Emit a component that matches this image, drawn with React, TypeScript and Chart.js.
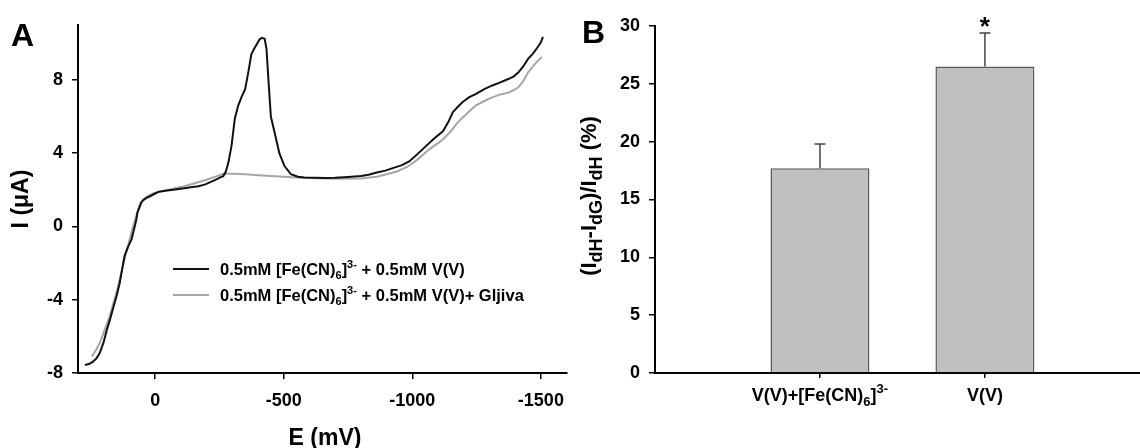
import React, { useEffect, useRef } from 'react';
import { Chart, registerables } from 'chart.js';

Chart.register(...registerables);

const FONT = '"Liberation Sans", Arial, Helvetica, sans-serif';

// ---------- Panel A data (E in mV, I in µA) ----------
const blackE = [273, 255, 242, 228, 215, 200, 188, 176, 165, 150, 138, 128, 119, 105, 92, 82, 73, 69, 62, 54, 45, 35, 20, 0, -15, -40, -70, -92, -120, -145, -169, -195, -219, -240, -253, -265, -275, -285, -297, -310, -323, -337, -350, -362, -374, -385, -393, -405, -415, -426, -433, -441, -450, -465, -483, -503, -528, -555, -580, -620, -660, -700, -750, -800, -830, -862, -895, -927, -960, -988, -1020, -1054, -1085, -1119, -1140, -1158, -1178, -1196, -1220, -1246, -1280, -1311, -1340, -1373, -1395, -1412, -1432, -1450, -1470, -1488, -1500, -1508];
const blackI = [-7.56, -7.5, -7.38, -7.2, -6.9, -6.3, -5.65, -5.1, -4.55, -3.8, -3.1, -2.3, -1.6, -1.1, -0.7, -0.15, 0.38, 0.75, 1.0, 1.3, 1.45, 1.55, 1.65, 1.8, 1.9, 1.95, 2.0, 2.05, 2.1, 2.15, 2.2, 2.3, 2.45, 2.58, 2.68, 2.75, 3.0, 3.5, 4.4, 5.9, 6.6, 7.1, 7.5, 8.4, 9.4, 9.7, 9.9, 10.2, 10.3, 10.25, 9.7, 7.9, 6.0, 5.1, 4.0, 3.3, 2.85, 2.72, 2.68, 2.66, 2.65, 2.66, 2.7, 2.75, 2.82, 2.95, 3.05, 3.2, 3.35, 3.55, 3.95, 4.4, 4.8, 5.2, 5.7, 6.25, 6.55, 6.8, 7.05, 7.23, 7.5, 7.7, 7.85, 8.05, 8.2, 8.4, 8.75, 9.15, 9.45, 9.8, 10.05, 10.35];

const greyE = [246, 230, 215, 200, 190, 177, 165, 150, 138, 125, 112, 100, 88, 75, 65, 55, 40, 25, 0, -50, -100, -150, -200, -240, -265, -300, -350, -400, -450, -500, -550, -600, -700, -800, -862, -900, -940, -980, -1020, -1060, -1100, -1119, -1150, -1181, -1215, -1246, -1280, -1311, -1340, -1373, -1395, -1412, -1432, -1450, -1470, -1488, -1504];
const greyI = [-7.1, -6.75, -6.35, -5.8, -5.4, -4.9, -4.3, -3.6, -2.9, -2.15, -1.4, -0.75, -0.1, 0.5, 1.0, 1.35, 1.55, 1.7, 1.85, 2.0, 2.15, 2.35, 2.55, 2.75, 2.88, 2.88, 2.85, 2.8, 2.76, 2.72, 2.68, 2.65, 2.6, 2.62, 2.72, 2.85, 3.0, 3.25, 3.65, 4.15, 4.55, 4.75, 5.2, 5.75, 6.2, 6.6, 6.85, 7.05, 7.2, 7.3, 7.45, 7.6, 7.95, 8.4, 8.75, 9.05, 9.25];

const xTicksA = [0, -500, -1000, -1500];
const yTicksA = [-8, -4, 0, 4, 8];
const seriesLabels = [
  '0.5mM [Fe(CN){_6}]{^3-} + 0.5mM V(V)',
  '0.5mM [Fe(CN){_6}]{^3-} + 0.5mM V(V)+ Gljiva',
];
const seriesColors = ['#111111', '#a6a6a6'];

// ---------- Panel B data ----------
const barCategories = ['V(V)+[Fe(CN){_6}]{^3-}', 'V(V)'];
const barPositions = [1, 2];
const barValues = [17.7, 26.5];
const barErrors = [2.1, 2.9];
const barMarks = ['', '*'];
const yTicksB = [0, 5, 10, 15, 20, 25, 30];

type Seg = { t: string; k: 'n' | 'sub' | 'sup' };
function parseRich(s: string): Seg[] {
  const out: Seg[] = [];
  const re = /\{([_^])([^}]*)\}/g;
  let last = 0;
  let m: RegExpExecArray | null;
  while ((m = re.exec(s))) {
    if (m.index > last) out.push({ t: s.slice(last, m.index), k: 'n' });
    out.push({ t: m[2], k: m[1] === '_' ? 'sub' : 'sup' });
    last = re.lastIndex;
  }
  if (last < s.length) out.push({ t: s.slice(last), k: 'n' });
  return out;
}

function drawRich(ctx: CanvasRenderingContext2D, s: string, x: number, y: number, size: number, align: 'left' | 'center', subRatio = 0.66, color = '#000') {
  const segs = parseRich(s);
  const fontFor = (k: string) => `bold ${k === 'n' ? size : Math.round(size * subRatio)}px ${FONT}`;
  let total = 0;
  const widths = segs.map((sg) => {
    ctx.font = fontFor(sg.k);
    const w = ctx.measureText(sg.t).width;
    total += w;
    return w;
  });
  let cx = align === 'center' ? x - total / 2 : x;
  ctx.textBaseline = 'alphabetic';
  ctx.textAlign = 'left';
  ctx.fillStyle = color;
  segs.forEach((sg, i) => {
    ctx.font = fontFor(sg.k);
    const dy = sg.k === 'sub' ? size * 0.26 : sg.k === 'sup' ? -size * 0.42 : 0;
    ctx.fillText(sg.t, cx, y + dy);
    cx += widths[i];
  });
}

function drawRotated(ctx: CanvasRenderingContext2D, s: string, cx: number, cy: number, size: number, subRatio = 0.66) {
  ctx.save();
  ctx.translate(cx, cy);
  ctx.rotate(-Math.PI / 2);
  drawRich(ctx, s, 0, size * 0.36, size, 'center', subRatio);
  ctx.restore();
}

const tickFont = { family: FONT, size: 18, weight: 'bold' as const };

function PanelA() {
  const ref = useRef<HTMLCanvasElement>(null);
  useEffect(() => {
    if (!ref.current) return;
    const decor = {
      id: 'decorA',
      afterDraw(chart: any) {
        const ctx = chart.ctx as CanvasRenderingContext2D;
        ctx.save();
        ctx.font = `bold 32px ${FONT}`;
        ctx.fillStyle = '#000';
        ctx.textAlign = 'left';
        ctx.textBaseline = 'alphabetic';
        ctx.fillText('A', 11, 46);
        drawRich(ctx, 'E (mV)', 325, 445, 23, 'center');
        drawRotated(ctx, 'I (μA)', 20, 199, 23);
        const rows = [269, 295];
        seriesLabels.forEach((lab, i) => {
          ctx.strokeStyle = seriesColors[i];
          ctx.lineWidth = 2;
          ctx.beginPath();
          ctx.moveTo(173, rows[i]);
          ctx.lineTo(209, rows[i]);
          ctx.stroke();
          drawRich(ctx, lab, 220, rows[i] + 6, 16.5, 'left', 0.66);
        });
        ctx.restore();
      },
    };
    const chart = new Chart(ref.current, {
      type: 'line',
      data: {
        datasets: [
          {
            label: 'black',
            data: blackE.map((e, i) => ({ x: e, y: blackI[i] })),
            borderColor: seriesColors[0],
            borderWidth: 2,
            pointRadius: 0,
            tension: 0,
          },
          {
            label: 'grey',
            data: greyE.map((e, i) => ({ x: e, y: greyI[i] })),
            borderColor: seriesColors[1],
            borderWidth: 2,
            pointRadius: 0,
            tension: 0,
          },
        ],
      },
      options: {
        animation: false,
        responsive: false,
        devicePixelRatio: 1,
        layout: { padding: { top: 25, right: 2, left: 0, bottom: 0 } },
        plugins: { legend: { display: false }, tooltip: { enabled: false } },
        scales: {
          x: {
            type: 'linear',
            reverse: true,
            min: -1600,
            max: 300,
            afterBuildTicks: (s: any) => { s.ticks = xTicksA.map((v) => ({ value: v })); },
            afterFit: (s: any) => { s.height = 75; },
            grid: { drawOnChartArea: false, drawTicks: true, tickLength: 6, color: '#000', lineWidth: 1.5 },
            border: { display: true, color: '#000', width: 2 },
            ticks: { color: '#000', font: tickFont, padding: 11, maxRotation: 0, callback: (v: any) => String(v) },
          },
          y: {
            type: 'linear',
            min: -8,
            max: 11,
            afterBuildTicks: (s: any) => { s.ticks = yTicksA.map((v) => ({ value: v })); },
            afterFit: (s: any) => { s.width = 78; },
            grid: { drawOnChartArea: false, drawTicks: true, tickLength: 6, color: '#000', lineWidth: 1.5 },
            border: { display: true, color: '#000', width: 2 },
            ticks: { color: '#000', font: tickFont, padding: 9, callback: (v: any) => String(v) },
          },
        },
      },
      plugins: [decor],
    } as any);
    return () => chart.destroy();
  }, []);
  return <canvas ref={ref} width={575} height={448} style={{ position: 'absolute', left: 0, top: 0 }} />;
}

function PanelB() {
  const ref = useRef<HTMLCanvasElement>(null);
  useEffect(() => {
    if (!ref.current) return;
    const decor = {
      id: 'decorB',
      afterDatasetsDraw(chart: any) {
        const ctx = chart.ctx as CanvasRenderingContext2D;
        const ys = chart.scales.y;
        const meta = chart.getDatasetMeta(0);
        ctx.save();
        ctx.strokeStyle = '#444';
        ctx.lineWidth = 1.5;
        meta.data.forEach((el: any, i: number) => {
          const top = ys.getPixelForValue(barValues[i] + barErrors[i]);
          ctx.beginPath();
          ctx.moveTo(el.x, el.y);
          ctx.lineTo(el.x, top);
          ctx.moveTo(el.x - 5.5, top);
          ctx.lineTo(el.x + 5.5, top);
          ctx.stroke();
          if (barMarks[i]) {
            ctx.font = `bold 26px ${FONT}`;
            ctx.fillStyle = '#000';
            ctx.textAlign = 'center';
            ctx.textBaseline = 'alphabetic';
            ctx.fillText(barMarks[i], el.x, top + 2);
          }
        });
        ctx.restore();
      },
      afterDraw(chart: any) {
        const ctx = chart.ctx as CanvasRenderingContext2D;
        const xs = chart.scales.x;
        ctx.save();
        ctx.font = `bold 32px ${FONT}`;
        ctx.fillStyle = '#000';
        ctx.textAlign = 'left';
        ctx.textBaseline = 'alphabetic';
        ctx.fillText('B', 7, 43);
        drawRotated(ctx, '(I{_dH}-I{_dG})/I{_dH} (%)', 13, 196, 22, 0.8);
        barCategories.forEach((c, i) => {
          drawRich(ctx, c, xs.getPixelForValue(barPositions[i]), 401, 18, 'center', 0.72);
        });
        ctx.restore();
      },
    };
    const chart = new Chart(ref.current, {
      type: 'bar',
      data: {
        datasets: [
          {
            label: 'B',
            data: barPositions.map((p, i) => ({ x: p, y: barValues[i] })),
            backgroundColor: '#c0c0c0',
            borderColor: '#5a5a5a',
            borderWidth: 1.5,
            barPercentage: 0.6,
            categoryPercentage: 1,
          },
        ],
      },
      options: {
        animation: false,
        responsive: false,
        devicePixelRatio: 1,
        layout: { padding: { top: 26, right: 0, left: 0, bottom: 0 } },
        plugins: { legend: { display: false }, tooltip: { enabled: false } },
        scales: {
          x: {
            type: 'linear',
            offset: false,
            min: 0,
            max: 2.94,
            afterBuildTicks: (s: any) => { s.ticks = barPositions.map((v) => ({ value: v })); },
            afterFit: (s: any) => { s.height = 75; },
            grid: { drawOnChartArea: false, drawTicks: true, tickLength: 5, color: '#000', lineWidth: 1.5, offset: false },
            border: { display: true, color: '#000', width: 2 },
            ticks: { display: false },
          },
          y: {
            type: 'linear',
            min: 0,
            max: 30,
            afterBuildTicks: (s: any) => { s.ticks = yTicksB.map((v) => ({ value: v })); },
            afterFit: (s: any) => { s.width = 80; },
            grid: { drawOnChartArea: false, drawTicks: true, tickLength: 6, color: '#000', lineWidth: 1.5 },
            border: { display: true, color: '#000', width: 2 },
            ticks: { color: '#000', font: tickFont, padding: 9, callback: (v: any) => String(v) },
          },
        },
      },
      plugins: [decor],
    } as any);
    return () => chart.destroy();
  }, []);
  return <canvas ref={ref} width={565} height={448} style={{ position: 'absolute', left: 575, top: 0 }} />;
}

export default function App() {
  return (
    <div style={{ position: 'absolute', left: 0, top: 0, width: 1140, height: 448, background: '#fff', overflow: 'hidden' }}>
      <PanelA />
      <PanelB />
    </div>
  );
}
